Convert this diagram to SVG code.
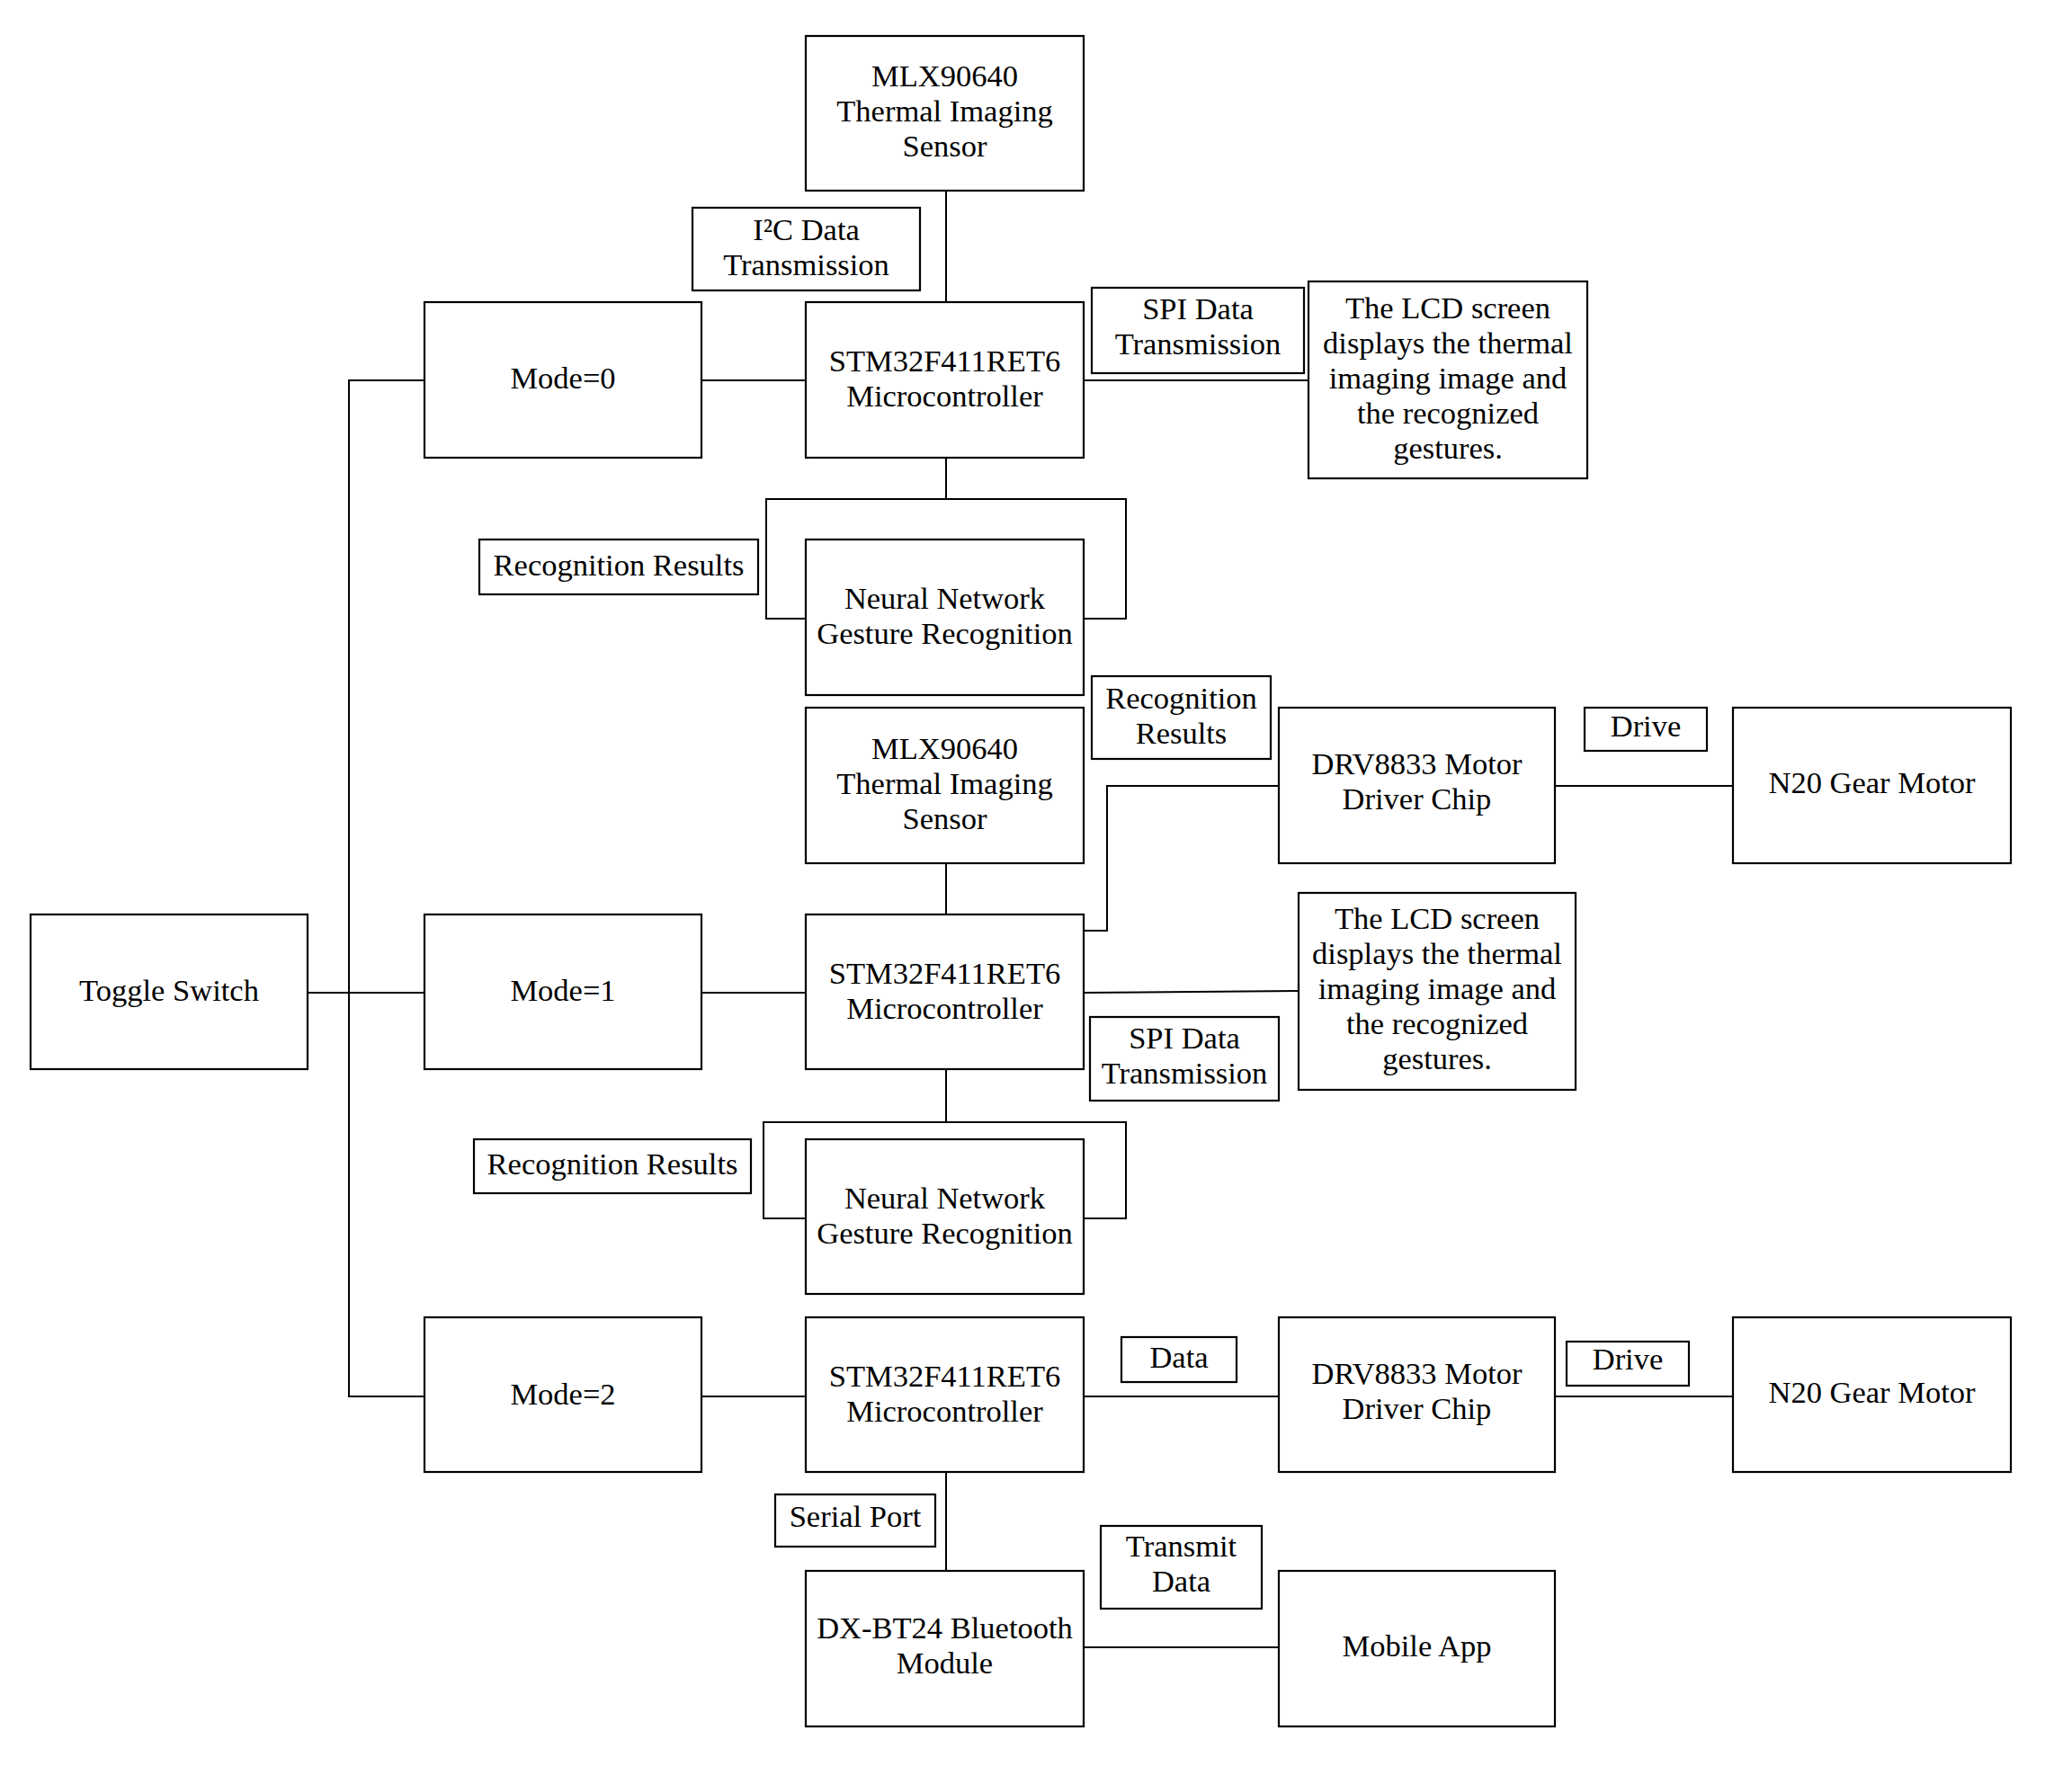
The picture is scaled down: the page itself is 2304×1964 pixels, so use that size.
<svg xmlns="http://www.w3.org/2000/svg" width="2304" height="1964" viewBox="0 0 2304 1964">
<style>
.b{fill:#fff;stroke:#000;stroke-width:2.2}
.t{font-family:"Liberation Serif","Times New Roman",serif;font-size:34.5px;fill:#000;text-anchor:middle}
.c{fill:none;stroke:#000;stroke-width:2}
</style>
<rect width="2304" height="1964" fill="#fff"/>
<g id="connectors">
<polyline class="c" points="472,423 388,423 388,1553 472,1553"/>
<line class="c" x1="342" y1="1104" x2="472" y2="1104"/>
<line class="c" x1="780" y1="423" x2="896" y2="423"/>
<line class="c" x1="1052" y1="212" x2="1052" y2="336"/>
<line class="c" x1="1205" y1="423" x2="1455" y2="423"/>
<line class="c" x1="1052" y1="509" x2="1052" y2="555"/>
<polyline class="c" points="896,688 852,688 852,555 1252,555 1252,688 1205,688"/>
<line class="c" x1="780" y1="1104" x2="896" y2="1104"/>
<line class="c" x1="1052" y1="960" x2="1052" y2="1017"/>
<polyline class="c" points="1205,1035 1231,1035 1231,874 1422,874"/>
<line class="c" x1="1205" y1="1104" x2="1444" y2="1102"/>
<line class="c" x1="1729" y1="874" x2="1927" y2="874"/>
<line class="c" x1="1052" y1="1189" x2="1052" y2="1248"/>
<polyline class="c" points="896,1355 849,1355 849,1248 1252,1248 1252,1355 1205,1355"/>
<line class="c" x1="780" y1="1553" x2="896" y2="1553"/>
<line class="c" x1="1205" y1="1553" x2="1422" y2="1553"/>
<line class="c" x1="1729" y1="1553" x2="1927" y2="1553"/>
<line class="c" x1="1052" y1="1637" x2="1052" y2="1747"/>
<line class="c" x1="1205" y1="1832" x2="1422" y2="1832"/>
</g>
<g transform="translate(0,-2)">
<g id="toggle"><rect class="b" x="34" y="1019" width="308" height="172"/><text class="t" x="188" y="1115">Toggle Switch</text></g>
<g id="mode0"><rect class="b" x="472" y="338" width="308" height="173"/><text class="t" x="626" y="434">Mode=0</text></g>
<g id="mode1"><rect class="b" x="472" y="1019" width="308" height="172"/><text class="t" x="626" y="1115">Mode=1</text></g>
<g id="mode2"><rect class="b" x="472" y="1467" width="308" height="172"/><text class="t" x="626" y="1564">Mode=2</text></g>
<g id="mlx0"><rect class="b" x="896" y="42" width="309" height="172"/><text class="t" x="1050.5"><tspan x="1050.5" y="98">MLX90640</tspan><tspan x="1050.5" y="137">Thermal Imaging</tspan><tspan x="1050.5" y="176">Sensor</tspan></text></g>
<g id="i2c"><rect class="b" x="770" y="233" width="253" height="92"/><text class="t"><tspan x="896.5" y="269">I²C Data</tspan><tspan x="896.5" y="308">Transmission</tspan></text></g>
<g id="stm0"><rect class="b" x="896" y="338" width="309" height="173"/><text class="t"><tspan x="1050.5" y="415">STM32F411RET6</tspan><tspan x="1050.5" y="454">Microcontroller</tspan></text></g>
<g id="spi0"><rect class="b" x="1214" y="322" width="236" height="95"/><text class="t"><tspan x="1332" y="357">SPI Data</tspan><tspan x="1332" y="396">Transmission</tspan></text></g>
<g id="lcd0"><rect class="b" x="1455" y="315" width="310" height="219"/><text class="t"><tspan x="1610" y="356">The LCD screen</tspan><tspan x="1610" y="395">displays the thermal</tspan><tspan x="1610" y="434">imaging image and</tspan><tspan x="1610" y="473">the recognized</tspan><tspan x="1610" y="512">gestures.</tspan></text></g>
<g id="rr0"><rect class="b" x="533" y="602" width="310" height="61"/><text class="t" x="688" y="642">Recognition Results</text></g>
<g id="nn0"><rect class="b" x="896" y="602" width="309" height="173"/><text class="t"><tspan x="1050.5" y="679">Neural Network</tspan><tspan x="1050.5" y="718">Gesture Recognition</tspan></text></g>
<g id="mlx1"><rect class="b" x="896" y="789" width="309" height="173"/><text class="t"><tspan x="1050.5" y="846">MLX90640</tspan><tspan x="1050.5" y="885">Thermal Imaging</tspan><tspan x="1050.5" y="924">Sensor</tspan></text></g>
<g id="rr1"><rect class="b" x="1214" y="754" width="199" height="92"/><text class="t"><tspan x="1313.5" y="790">Recognition</tspan><tspan x="1313.5" y="829">Results</tspan></text></g>
<g id="drv1"><rect class="b" x="1422" y="789" width="307" height="173"/><text class="t"><tspan x="1575.5" y="863">DRV8833 Motor</tspan><tspan x="1575.5" y="902">Driver Chip</tspan></text></g>
<g id="drive1"><rect class="b" x="1762" y="789" width="136" height="48"/><text class="t" x="1830" y="821">Drive</text></g>
<g id="n20a"><rect class="b" x="1927" y="789" width="309" height="173"/><text class="t" x="2081.5" y="884">N20 Gear Motor</text></g>
<g id="stm1"><rect class="b" x="896" y="1019" width="309" height="172"/><text class="t"><tspan x="1050.5" y="1096">STM32F411RET6</tspan><tspan x="1050.5" y="1135">Microcontroller</tspan></text></g>
<g id="lcd1"><rect class="b" x="1444" y="995" width="308" height="219"/><text class="t"><tspan x="1598" y="1035">The LCD screen</tspan><tspan x="1598" y="1074">displays the thermal</tspan><tspan x="1598" y="1113">imaging image and</tspan><tspan x="1598" y="1152">the recognized</tspan><tspan x="1598" y="1191">gestures.</tspan></text></g>
<g id="spi1"><rect class="b" x="1212" y="1133" width="210" height="93"/><text class="t"><tspan x="1317" y="1168">SPI Data</tspan><tspan x="1317" y="1207">Transmission</tspan></text></g>
<g id="rr2"><rect class="b" x="527" y="1269" width="308" height="60"/><text class="t" x="681" y="1308">Recognition Results</text></g>
<g id="nn1"><rect class="b" x="896" y="1269" width="309" height="172"/><text class="t"><tspan x="1050.5" y="1346">Neural Network</tspan><tspan x="1050.5" y="1385">Gesture Recognition</tspan></text></g>
<g id="stm2"><rect class="b" x="896" y="1467" width="309" height="172"/><text class="t"><tspan x="1050.5" y="1544">STM32F411RET6</tspan><tspan x="1050.5" y="1583">Microcontroller</tspan></text></g>
<g id="data"><rect class="b" x="1247" y="1489" width="128" height="50"/><text class="t" x="1311" y="1523">Data</text></g>
<g id="drv2"><rect class="b" x="1422" y="1467" width="307" height="172"/><text class="t"><tspan x="1575.5" y="1541">DRV8833 Motor</tspan><tspan x="1575.5" y="1580">Driver Chip</tspan></text></g>
<g id="drive2"><rect class="b" x="1742" y="1494" width="136" height="49"/><text class="t" x="1810" y="1525">Drive</text></g>
<g id="n20b"><rect class="b" x="1927" y="1467" width="309" height="172"/><text class="t" x="2081.5" y="1562">N20 Gear Motor</text></g>
<g id="serial"><rect class="b" x="862" y="1664" width="178" height="58"/><text class="t" x="951" y="1700">Serial Port</text></g>
<g id="bt"><rect class="b" x="896" y="1749" width="309" height="173"/><text class="t"><tspan x="1050.5" y="1824">DX-BT24 Bluetooth</tspan><tspan x="1050.5" y="1863">Module</tspan></text></g>
<g id="transmit"><rect class="b" x="1224" y="1699" width="179" height="92"/><text class="t"><tspan x="1313.5" y="1733">Transmit</tspan><tspan x="1313.5" y="1772">Data</tspan></text></g>
<g id="mobile"><rect class="b" x="1422" y="1749" width="307" height="173"/><text class="t" x="1575.5" y="1844">Mobile App</text></g>
</g>
</svg>
